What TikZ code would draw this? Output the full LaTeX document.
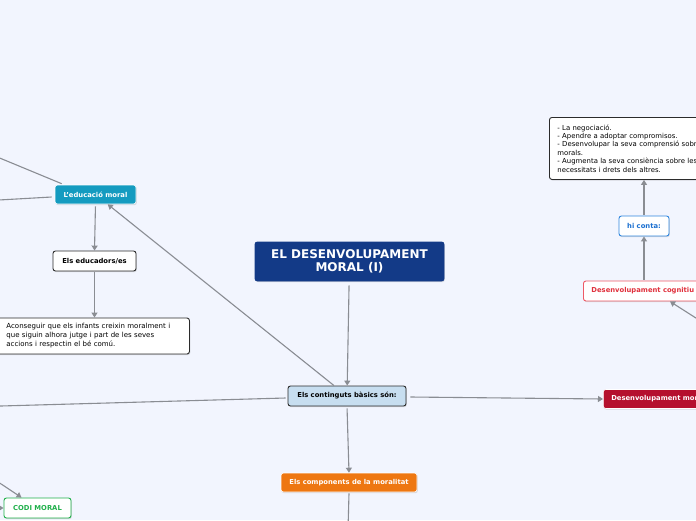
\documentclass[tikz,border=0pt]{standalone}
\usepackage{fontspec}
\setmainfont{DejaVu Sans}
\usetikzlibrary{arrows.meta,shadows,calc}
\definecolor{bg}{HTML}{F2F5FE}
\definecolor{titlec}{HTML}{133A87}
\definecolor{contc}{HTML}{C7DEF0}
\definecolor{tealc}{HTML}{149BC0}
\definecolor{orangec}{HTML}{EE7711}
\definecolor{crimsonc}{HTML}{B5102E}
\definecolor{greenc}{HTML}{20B04B}
\definecolor{bluec}{HTML}{2F86DE}
\definecolor{bluetext}{HTML}{1A6FD0}
\definecolor{redb}{HTML}{EE5A66}
\definecolor{redt}{HTML}{E0303C}
\definecolor{linec}{HTML}{8A8D93}
\definecolor{darkb}{HTML}{2B2B2B}
\begin{document}
\begin{tikzpicture}[x=1pt,y=-1pt,
  box/.style={rounded corners=2.5pt, draw=darkb, line width=0.9pt, inner sep=0pt,
    font=\fontsize{6.8}{8}\selectfont\bfseries,
    drop shadow={opacity=0.25,shadow xshift=0.8pt,shadow yshift=-1.2pt}},
  conn/.style={draw=linec, line width=1.1pt},
  arr/.style={conn, -{Triangle[width=6pt,length=5pt]}}]
\useasboundingbox (0,0) rectangle (696,520);
\clip (0,0) rectangle (696,520);
\fill[bg] (0,0) rectangle (696,520);

% nodes
\node[box, draw=titlec, fill=titlec, text=white, minimum width=189, minimum height=39,
  align=center, font=\fontsize{12}{13.5}\selectfont\bfseries] (title) at (349.5,261.5)
  {EL DESENVOLUPAMENT\\MORAL (I)};
\node[box, fill=contc, minimum width=118, minimum height=20] (cont) at (347,396) {Els continguts bàsics són:};
\node[box, draw=white, line width=0.6pt, fill=tealc, text=white, minimum width=81, minimum height=19] (edu) at (95.5,194.5) {L'educació moral};
\node[box, fill=white, minimum width=83, minimum height=20] (educ) at (94.5,261) {Els educadors/es};
\node[box, fill=white, anchor=west, minimum width=199, minimum height=36, text width=167,
  inner xsep=16pt, align=left, font=\fontsize{7}{9}\selectfont] (acon) at (-10,336)
  {Aconseguir que els infants creixin moralment i\\que siguin alhora jutge i part de les seves\\accions i respectin el bé comú.};
\node[box, draw=white, line width=0.6pt, fill=orangec, text=white, minimum width=136, minimum height=19] (comp) at (349,482.5) {Els components de la moralitat};
\node[box, draw=greenc, fill=white, text=greenc, minimum width=67, minimum height=20] (codi) at (37.5,508) {CODI MORAL};
\node[box, fill=white, anchor=north west, minimum height=62, text width=200, inner xsep=8pt,
  align=left, font=\fontsize{6.9}{8.4}\selectfont] (tbox) at (549,117)
  {- La negociació.\\- Apendre a adoptar compromisos.\\- Desenvolupar la seva comprensió sobre\\morals.\\- Augmenta la seva consiència sobre les\\necessitats i drets dels altres.};
\node[box, draw=bluec, fill=white, text=bluetext, minimum width=50, minimum height=20] (hiconta) at (644,226) {hi conta:};
\node[box, draw=redb, fill=white, text=redt, anchor=west, minimum width=150, minimum height=20,
  inner xsep=8pt, align=left, text width=134] (cog) at (583,291) {Desenvolupament cognitiu};
\node[box, draw=white, line width=0.6pt, fill=crimsonc, text=white, anchor=west, minimum width=150, minimum height=19,
  inner xsep=8pt, align=left, text width=134] (moral) at (603,399) {Desenvolupament moral};

% free ends
\coordinate (p1) at (-10,154);
\coordinate (p2) at (-10,200.5);
\coordinate (p3) at (-10,406.3);
\coordinate (p4) at (348,530);
\coordinate (p5) at (-10,476.6);
\coordinate (p6) at (-10,508);
\coordinate (p7) at (710,327);

% connectors
\draw[arr, shorten <=4pt] (title) -- (cont);
\draw[arr] (cont) -- (edu);
\draw[arr, shorten <=2pt] (edu.south) -- (educ.north);
\draw[arr, shorten <=1pt] (educ.south) -- (educ.south |- acon.north);
\draw[conn] ($(edu.north west)+(7,-1)$) -- (p1);
\draw[conn] ($(edu.west)+(-3,2.5)$) -- (p2);
\draw[conn] ($(cont.west)+(-2,2)$) -- (p3);
\draw[arr] ($(cont.east)+(4,1)$) -- (moral.west);
\draw[arr, shorten <=2pt] (cont.south) -- (comp.north);
\draw[conn] ($(comp.south)+(0,1)$) -- (p4);
\draw[arr] (p5) -- ($(codi.north west)+(18,0)$);
\draw[arr] (p6) -- (codi.west);
\draw[arr, shorten <=1pt] (hiconta.south |- cog.north) -- (hiconta.south);
\draw[arr, shorten <=1pt] (hiconta.north) -- (hiconta.north |- tbox.south);
\draw[arr] (p7) -- ($(cog.south west)+(87,0)$);
\end{tikzpicture}
\end{document}
